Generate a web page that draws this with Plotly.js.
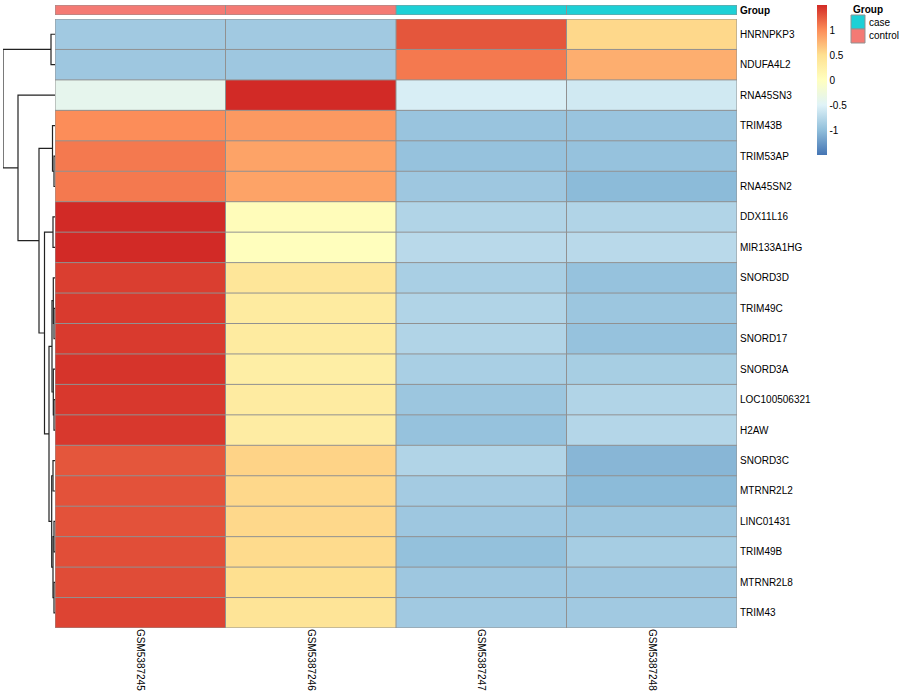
<!DOCTYPE html>
<html>
<head>
<meta charset="utf-8">
<script src="https://cdn.plot.ly/plotly-3.0.1.min.js"></script>
<style>html,body{margin:0;padding:0;background:#fff;}#chart{width:900px;height:700px;}</style>
</head>
<body>
<div id="chart"></div>
<script>
// ---------- data ----------
const samples = ["GSM5387245", "GSM5387246", "GSM5387247", "GSM5387248"];
const sampleGroup = ["control", "control", "case", "case"];
const genes = ["HNRNPKP3", "NDUFA4L2", "RNA45SN3", "TRIM43B", "TRIM53AP", "RNA45SN2",
  "DDX11L16", "MIR133A1HG", "SNORD3D", "TRIM49C", "SNORD17", "SNORD3A",
  "LOC100506321", "H2AW", "SNORD3C", "MTRNR2L2", "LINC01431", "TRIM49B", "MTRNR2L8", "TRIM43"];
// row-scaled expression (z-scores), one array per sample column
const valGSM5387245 = [-0.90, -0.92, -0.40, 1.00, 1.10, 1.10, 1.50, 1.50, 1.40, 1.42, 1.42, 1.45, 1.43, 1.43, 1.28, 1.30, 1.30, 1.32, 1.33, 1.37];
const valGSM5387246 = [-0.90, -0.92, 1.50, 0.93, 0.87, 0.87, 0.05, 0.02, 0.40, 0.33, 0.33, 0.28, 0.32, 0.30, 0.58, 0.55, 0.55, 0.53, 0.50, 0.43];
const valGSM5387247 = [1.28, 1.10, -0.55, -0.95, -0.97, -0.92, -0.80, -0.75, -0.85, -0.80, -0.80, -0.85, -0.93, -0.97, -0.80, -0.88, -0.92, -0.98, -0.92, -0.90];
const valGSM5387248 = [0.55, 0.80, -0.60, -0.95, -0.97, -1.03, -0.80, -0.75, -0.97, -0.93, -0.97, -0.86, -0.80, -0.78, -1.06, -1.03, -0.93, -0.87, -0.92, -0.90];
const groupNames = ["case", "control"];
const groupColors = ["#1DD0D6", "#F47A74"];
const colorbarTicks = [-1, -0.5, 0, 0.5, 1];
// row dendrogram (hclust style: negative = leaf index+1, positive = merge number)
const mergeLeft  = [-5, -4, -1, -7, -10, -9, -13, -12, 6, -15, -17, -19, 11, 10, 9, 4, 2, -3, 3];
const mergeRight = [-6,  1, -2, -8, -11,  5, -14,   7, 8, -16, -18, -20, 12, 13, 14, 15, 16, 17, 18];
const mergeHeight = [0.10, 0.25, 0.40, 0.20, 0.10, 0.17, 0.10, 0.17, 0.30, 0.20, 0.10, 0.10, 0.20, 0.33, 0.60, 1.05, 1.60, 3.70, 5.20];

// ---------- build ----------
const W = 900, H = 700;
const cols = [valGSM5387245, valGSM5387246, valGSM5387247, valGSM5387248];
const z = genes.map((g, i) => cols.map(c => c[i]));
const xIdx = samples.map((s, i) => i);
const yIdx = genes.map((g, i) => i);

const colorscale = [
  [0, "#4575B4"], [1/6, "#91BFDB"], [2/6, "#E0F3F8"], [0.5, "#FFFFBF"],
  [4/6, "#FEE090"], [5/6, "#FC8D59"], [1, "#D22A26"]
];

const fontFam = "Liberation Sans, Arial, Helvetica, sans-serif";
const borderCol = "#919191";

// dendrogram segments
const nodeY = [], nodeH = [];
function posOf(k) { return k < 0 ? { y: -k - 1, h: 0 } : { y: nodeY[k - 1], h: nodeH[k - 1] }; }
const dx = [], dy = [];
for (let m = 0; m < mergeHeight.length; m++) {
  const a = posOf(mergeLeft[m]), b = posOf(mergeRight[m]);
  const hgt = mergeHeight[m];
  nodeY.push((a.y + b.y) / 2); nodeH.push(hgt);
  dx.push(a.h, hgt, hgt, b.h, null);
  dy.push(a.y, a.y, b.y, b.y, null);
}
const hMax = Math.max(...mergeHeight);

const heat = {
  type: "heatmap", x: xIdx, y: yIdx, z: z, xaxis: "x", yaxis: "y",
  colorscale: colorscale, zmin: -1.5, zmax: 1.5, hoverinfo: "skip",
  colorbar: {
    x: 817 / W, xanchor: "left", y: 1 - 5 / H, yanchor: "top",
    len: 150, lenmode: "pixels", thickness: 10, thicknessmode: "pixels",
    outlinewidth: 0, xpad: 0, ypad: 0, tickvals: colorbarTicks,
    ticktext: colorbarTicks.map(String), ticks: "", ticklen: 0, ticklabelstandoff: 2,
    tickfont: { family: fontFam, size: 10, color: "#000" }
  }
};
const groupIdx = sampleGroup.map(g => groupNames.indexOf(g));
const annot = {
  type: "heatmap", x: xIdx, y: [0], z: [groupIdx], xaxis: "x", yaxis: "y2",
  zmin: 0, zmax: 1, showscale: false, hoverinfo: "skip",
  colorscale: [[0, groupColors[0]], [0.5, groupColors[0]], [0.5, groupColors[1]], [1, groupColors[1]]]
};
const dendro = {
  type: "scatter", mode: "lines", x: dx, y: dy, xaxis: "x3", yaxis: "y",
  line: { color: "#222", width: 1.2 }, hoverinfo: "skip", showlegend: false
};

// cell borders
const shapes = [];
for (let i = 0; i <= samples.length; i++) {
  shapes.push({ type: "line", xref: "x", yref: "y", x0: i - 0.5, x1: i - 0.5, y0: -0.5, y1: genes.length - 0.5, line: { color: borderCol, width: 1 } });
  shapes.push({ type: "line", xref: "x", yref: "y2", x0: i - 0.5, x1: i - 0.5, y0: -0.5, y1: 0.5, line: { color: borderCol, width: 1 } });
}
for (let j = 0; j <= genes.length; j++) {
  shapes.push({ type: "line", xref: "x", yref: "y", x0: -0.5, x1: samples.length - 0.5, y0: j - 0.5, y1: j - 0.5, line: { color: borderCol, width: 1 } });
}
[-0.5, 0.5].forEach(v => shapes.push({ type: "line", xref: "x", yref: "y2", x0: -0.5, x1: samples.length - 0.5, y0: v, y1: v, line: { color: borderCol, width: 1 } }));

// group legend
const annotations = [{
  xref: "paper", yref: "paper", x: 851 / W, y: 1 - 9 / H, xanchor: "left", yanchor: "middle",
  text: "<b>Group</b>", showarrow: false, font: { family: fontFam, size: 10, color: "#000" }
}];
groupNames.forEach((g, k) => {
  const top = 15 + 14 * k;
  shapes.push({ type: "rect", xref: "paper", yref: "paper", x0: 851 / W, x1: 865 / W,
    y0: 1 - (top + 14) / H, y1: 1 - top / H, fillcolor: groupColors[k], line: { color: borderCol, width: 1 } });
  annotations.push({ xref: "paper", yref: "paper", x: 867 / W, y: 1 - (top + 7) / H, xanchor: "left", yanchor: "middle",
    text: g, showarrow: false, font: { family: fontFam, size: 10, color: "#000" } });
});

const layout = {
  width: W, height: H, margin: { l: 0, r: 0, t: 0, b: 0 },
  paper_bgcolor: "#fff", plot_bgcolor: "rgba(0,0,0,0)", showlegend: false,
  font: { family: fontFam, size: 10, color: "#000" },
  xaxis: { domain: [55 / W, 737 / W], range: [-0.5, samples.length - 0.5], anchor: "y",
    tickvals: xIdx, ticktext: samples, tickangle: 90, ticks: "", showgrid: false, zeroline: false,
    showline: false, tickfont: { family: fontFam, size: 10, color: "#000" } },
  yaxis: { domain: [1 - 628 / H, 1 - 19 / H], range: [genes.length - 0.5, -0.5], anchor: "x", side: "right",
    tickvals: yIdx, ticktext: genes, ticks: "", ticklabelstandoff: 2, showgrid: false, zeroline: false, showline: false,
    tickfont: { family: fontFam, size: 10, color: "#000" } },
  yaxis2: { domain: [1 - 15 / H, 1 - 5 / H], range: [-0.5, 0.5], anchor: "x", side: "right",
    tickvals: [0], ticktext: ["<b>Group</b>"], ticks: "", ticklabelstandoff: 2, showgrid: false, zeroline: false, showline: false,
    tickfont: { family: fontFam, size: 10, color: "#000" } },
  xaxis3: { domain: [3 / W, 55 / W], range: [hMax, 0], anchor: "y", visible: false, showgrid: false, zeroline: false },
  shapes: shapes, annotations: annotations
};

Plotly.newPlot("chart", [heat, annot, dendro], layout, { displayModeBar: false, staticPlot: true });
</script>
</body>
</html>
